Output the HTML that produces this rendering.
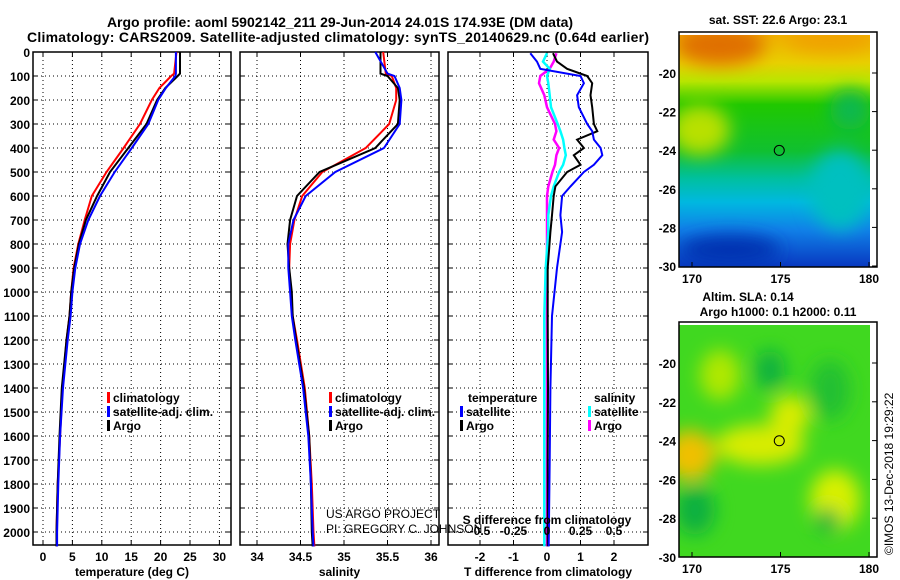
<!DOCTYPE html>
<html><head><meta charset="utf-8">
<style>
body{margin:0;background:#fff;}
svg{display:block;font-family:"Liberation Sans",sans-serif;}
.t{font-weight:bold;font-size:12px;}
</style></head>
<body>
<svg id="fig" width="900" height="580" viewBox="0 0 900 580" xmlns="http://www.w3.org/2000/svg">
<defs>
<linearGradient id="sstg" x1="0" y1="0" x2="0" y2="1">
<stop offset="0" stop-color="#f0b000"/><stop offset="0.12" stop-color="#e8d000"/>
<stop offset="0.2" stop-color="#b8e600"/><stop offset="0.3" stop-color="#20c800"/>
<stop offset="0.5" stop-color="#10c030"/><stop offset="0.62" stop-color="#00c0a0"/>
<stop offset="0.72" stop-color="#00b8e0"/><stop offset="0.84" stop-color="#1080e8"/>
<stop offset="1" stop-color="#0838c0"/></linearGradient>
<filter id="blur8"><feGaussianBlur stdDeviation="9"/></filter>
<clipPath id="c1"><rect x="679" y="35" width="191" height="232"/></clipPath>
<clipPath id="c2"><rect x="679" y="325" width="191" height="232"/></clipPath>
</defs>
<text x="340" y="27" text-anchor="middle" font-weight="bold" font-size="14">Argo profile: aoml 5902142_211 29-Jun-2014 24.01S 174.93E (DM data)</text>
<text x="338" y="42" text-anchor="middle" font-weight="bold" font-size="14" textLength="622">Climatology: CARS2009. Satellite-adjusted climatology: synTS_20140629.nc (0.64d earlier)</text>
<g id="plots"></g>
<g id="maps"></g>
</svg>
<script>
// ---- data arrays ----
const depthTicks=[0,100,200,300,400,500,600,700,800,900,1000,1100,1200,1300,1400,1500,1600,1700,1800,1900,2000];
const tempTicks=[0,5,10,15,20,25,30];
const salTicks=[34,34.5,35,35.5,36];
const tdiffTicks=[-2,-1,0,1,2];
const sdiffTicks=[-0.5,-0.25,0,0.25,0.5];
const profDepth=[0,90,100,150,200,300,400,500,600,700,800,900,1000,1100,1200,1400,1600,1800,2000,2060];
const tempArgo=[23.3,23.3,22.9,20.8,19.4,17.6,14.5,11.4,9.2,7.3,6.1,5.3,4.8,4.5,4.0,3.2,2.8,2.5,2.3,2.3];
const tempClim=[22.7,22.3,21.8,19.8,18.5,16.5,13.7,10.8,8.3,7.1,6.0,5.2,4.8,4.5,4.0,3.3,2.9,2.5,2.3,2.3];
const tempSat=[22.6,22.6,22.5,20.9,19.6,17.9,15.1,12.2,9.7,7.7,6.3,5.5,5.0,4.7,4.2,3.4,2.9,2.6,2.4,2.4];
const salArgo=[35.42,35.42,35.5,35.62,35.64,35.62,35.36,34.72,34.46,34.38,34.35,34.37,34.4,34.41,34.45,34.54,34.6,34.62,34.63,34.64];
const salClim=[35.45,35.48,35.55,35.6,35.6,35.52,35.25,34.75,34.52,34.43,34.38,34.37,34.39,34.41,34.46,34.55,34.6,34.63,34.65,34.66];
const salSat=[35.36,35.5,35.58,35.64,35.66,35.64,35.46,34.9,34.56,34.42,34.36,34.36,34.38,34.4,34.44,34.53,34.59,34.62,34.64,34.65];
const diffDepth=[5,40,70,100,130,180,230,300,330,365,400,430,470,500,560,600,680,750,900,1100,1400,1700,2060];
const tdArgo=[0.18,0.3,0.6,1.2,1.35,1.3,1.35,1.4,1.5,0.9,1.1,0.8,1.0,0.6,0.25,0.2,0.15,0.1,0.02,0.02,0.03,0.02,0.02];
const tdSat=[-0.5,-0.3,-0.2,1.0,1.1,0.9,0.95,1.2,1.35,1.4,1.6,1.65,1.4,1.1,0.7,0.45,0.4,0.45,0.3,0.15,0.1,0.08,0.05];
const sdArgo=[0.07,0.05,0.02,-0.05,-0.06,-0.02,0,0.06,0.07,0.05,0.09,0.07,0.06,0.04,0.01,0,0,0,0,0,0,0,0];
const sdSat=[0,-0.03,0.02,0,0.01,0.02,0.03,0.08,0.1,0.12,0.13,0.14,0.12,0.09,0.05,0.03,0.01,0.01,-0.01,-0.02,-0.02,-0.02,-0.02];
const lonTicks=[170,175,180];
const latTicks=[-20,-22,-24,-26,-28,-30];

const NS='http://www.w3.org/2000/svg';
function mk(tag,attrs,parent,txt){const e=document.createElementNS(NS,tag);for(const k in attrs)e.setAttribute(k,attrs[k]);if(txt!==undefined)e.textContent=txt;parent.appendChild(e);return e;}
const plots=document.getElementById('plots');
const Y=d=>52+d*0.24;
const Ybot=545;
const panels=[
 {x0:33,x1:231,X:v=>43+v*5.88,ticks:tempTicks,label:'temperature (deg C)',name:'temperature'},
 {x0:240,x1:439,X:v=>257+(v-34)*87,ticks:salTicks,label:'salinity',name:'salinity'},
 {x0:448,x1:648,X:v=>547+v*33.5,ticks:tdiffTicks,label:'T difference from climatology',name:'difference'}
];
const XS=v=>547+v*134;
panels.forEach((p,i)=>{
 const g=mk('g',{},plots);
 
 
 // grid
 depthTicks.forEach(d=>{if(d>0){const l=mk('line',{x1:p.x0,x2:p.x1,y1:Y(d),y2:Y(d),stroke:'#000','stroke-width':1,'stroke-dasharray':'1 3'},g);}
  const tk=mk('line',{x1:p.x0,x2:p.x0+5,y1:Y(d),y2:Y(d),stroke:'#000'},g);
  const tk2=mk('line',{x1:p.x1-5,x2:p.x1,y1:Y(d),y2:Y(d),stroke:'#000'},g);});
 p.ticks.forEach(v=>{const x=p.X(v);
  const l=mk('line',{x1:x,x2:x,y1:52,y2:Ybot,stroke:'#000','stroke-dasharray':'1 3'},g);
  const tk=mk('line',{x1:x,x2:x,y1:Ybot-5,y2:Ybot,stroke:'#000'},g);
  const tk2=mk('line',{x1:x,x2:x,y1:52,y2:57,stroke:'#000'},g);
  const t=mk('text',{x:x,y:561,'text-anchor':'middle',class:'t'},g,String(v));});
 const fr=mk('rect',{x:p.x0,y:52,width:p.x1-p.x0,height:Ybot-52,fill:'none',stroke:'#000','stroke-width':1.5},g);
 const xl=mk('text',{x:(p.x0+p.x1)/2,y:576,'text-anchor':'middle',class:'t'},g,p.label);
});
depthTicks.forEach(d=>{const t=mk('text',{x:30,y:Y(d)+5,'text-anchor':'end',class:'t'},plots,String(d));});
function line(xs,depths,X,color,w,name){
 const pts=xs.map((v,i)=>X(v).toFixed(1)+','+Y(depths[i]).toFixed(1)).join(' ');
 const l=mk('polyline',{points:pts,fill:'none',stroke:color,'stroke-width':w},plots);
 
 
}
line(tempClim,profDepth,panels[0].X,'#f00',2,'temp-climatology-line');
line(tempArgo,profDepth,panels[0].X,'#000',2,'temp-argo-line');
line(tempSat,profDepth,panels[0].X,'#00f',2,'temp-satellite-line');
line(salClim,profDepth,panels[1].X,'#f00',2,'sal-climatology-line');
line(salArgo,profDepth,panels[1].X,'#000',2,'sal-argo-line');
line(salSat,profDepth,panels[1].X,'#00f',2,'sal-satellite-line');
line(sdArgo,diffDepth,XS,'#f0f',2.5,'sdiff-argo-line');
line(sdSat,diffDepth,XS,'#0ff',2.5,'sdiff-satellite-line');
line(tdArgo,diffDepth,panels[2].X,'#000',2,'tdiff-argo-line');
line(tdSat,diffDepth,panels[2].X,'#00f',2,'tdiff-satellite-line');
// S-diff axis labels
sdiffTicks.forEach(v=>{const t=mk('text',{x:XS(v),y:535,'text-anchor':'middle',class:'t'},plots,String(v));});
{const t=mk('text',{x:547,y:524,'text-anchor':'middle',class:'t'},plots,'S difference from climatology');}
// legends
function leg(x,y,color,label,name){
 const r=mk('rect',{x:x,y:y-10,width:3,height:11,fill:color},plots);
 const t=mk('text',{x:x+6,y:y,class:'t'},plots,label);
}
leg(107,402,'#f00','climatology','legend-temp-climatology');
leg(107,416,'#00f','satellite-adj. clim.','legend-temp-satellite');
leg(107,430,'#000','Argo','legend-temp-argo');
leg(329,402,'#f00','climatology','legend-sal-climatology');
leg(329,416,'#00f','satellite-adj. clim.','legend-sal-satellite');
leg(329,430,'#000','Argo','legend-sal-argo');
{const t=mk('text',{x:468,y:402,class:'t'},plots,'temperature');}
{const t=mk('text',{x:594,y:402,class:'t'},plots,'salinity');}
leg(460,416,'#00f','satellite','legend-tdiff-satellite');
leg(460,430,'#000','Argo','legend-tdiff-argo');
leg(588,416,'#0ff','satellite','legend-sdiff-satellite');
leg(588,430,'#f0f','Argo','legend-sdiff-argo');
{const t=mk('text',{x:326,y:518,'font-size':12},plots,'US ARGO PROJECT');}
{const t=mk('text',{x:326,y:533,'font-size':12},plots,'PI: GREGORY C. JOHNSON');}

// ---- maps ----
const maps=document.getElementById('maps');
function mapFrame(top,bottomLatY,title1,title2,name,clip,fill){
 const g=mk('g',{},maps);
 
 
 return g;
}
const LX=l=>692+(l-170)*17.7;
// SST map
const g1=mapFrame();


const cg1=mk('g',{'clip-path':'url(#c1)'},g1);
mk('rect',{x:679,y:35,width:191,height:232,fill:'url(#sstg)'},cg1);
const b1=mk('g',{filter:'url(#blur8)'},cg1);
mk('ellipse',{cx:720,cy:45,rx:45,ry:20,fill:'#e07000'},b1);
mk('ellipse',{cx:830,cy:40,rx:45,ry:12,fill:'#f0a000'},b1);
mk('ellipse',{cx:700,cy:130,rx:30,ry:25,fill:'#b8e000'},b1);
mk('ellipse',{cx:840,cy:190,rx:30,ry:40,fill:'#00c0c0'},b1);
mk('ellipse',{cx:730,cy:250,rx:50,ry:15,fill:'#0030b0'},b1);
mk('ellipse',{cx:850,cy:110,rx:20,ry:20,fill:'#10b850'},b1);
mk('rect',{x:870,y:32,width:10,height:235,fill:'#fff'},g1);
mk('circle',{cx:LX(174.93),cy:73+4.01*19.3,r:5,fill:'none',stroke:'#000'},g1);
mk('rect',{x:679,y:32,width:198,height:235,fill:'none',stroke:'#000','stroke-width':1.5},g1);
{const t=mk('text',{x:778,y:24,'text-anchor':'middle',class:'t'},g1,'sat. SST: 22.6 Argo: 23.1');}
// SLA map
const g2=mapFrame();


const cg2=mk('g',{'clip-path':'url(#c2)'},g2);
mk('rect',{x:679,y:325,width:191,height:232,fill:'#40d820'},cg2);
const b2=mk('g',{filter:'url(#blur8)'},cg2);
mk('ellipse',{cx:690,cy:455,rx:25,ry:25,fill:'#f0c000'},b2);
mk('ellipse',{cx:760,cy:445,rx:45,ry:20,fill:'#d8ec00'},b2);
mk('ellipse',{cx:790,cy:415,rx:20,ry:20,fill:'#d8ec00'},b2);
mk('ellipse',{cx:720,cy:375,rx:20,ry:25,fill:'#b0e800'},b2);
mk('ellipse',{cx:835,cy:500,rx:25,ry:30,fill:'#d8f000'},b2);
mk('ellipse',{cx:770,cy:370,rx:15,ry:20,fill:'#10b040'},b2);
mk('ellipse',{cx:695,cy:510,rx:20,ry:25,fill:'#10b040'},b2);
mk('ellipse',{cx:828,cy:520,rx:12,ry:12,fill:'#10b040'},b2);
mk('ellipse',{cx:830,cy:390,rx:20,ry:30,fill:'#20c030'},b2);
mk('rect',{x:870,y:322,width:10,height:235,fill:'#fff'},g2);
mk('circle',{cx:LX(174.93),cy:363+4.01*19.4,r:5,fill:'none',stroke:'#000'},g2);
mk('rect',{x:679,y:322,width:198,height:235,fill:'none',stroke:'#000','stroke-width':1.5},g2);
{const t=mk('text',{x:748,y:301,'text-anchor':'middle',class:'t'},g2,'Altim. SLA: 0.14');}
{const t=mk('text',{x:778,y:316,'text-anchor':'middle',class:'t'},g2,'Argo h1000: 0.1 h2000: 0.11');}
// map axes
[[73,19.3,267,'sst'],[363,19.4,557,'sla']].forEach(([y20,s,yb,n])=>{
 latTicks.forEach(l=>{const y=y20+(-20-l)*s;
  mk('line',{x1:872,x2:877,y1:y,y2:y,stroke:'#000'},maps);
  const t=mk('text',{x:676,y:y+5,'text-anchor':'end',class:'t'},maps,String(l));});
 lonTicks.forEach(l=>{const x=LX(l);
  mk('line',{x1:x,x2:x,y1:yb-5,y2:yb,stroke:'#000'},maps);
  const t=mk('text',{x:x,y:yb+16,'text-anchor':'middle',class:'t'},maps,String(l));});
});
{const t=mk('text',{x:0,y:0,'font-size':12,transform:'translate(893,555) rotate(-90)'},maps,'©IMOS 13-Dec-2018 19:29:22');}
</script>
</body></html>
